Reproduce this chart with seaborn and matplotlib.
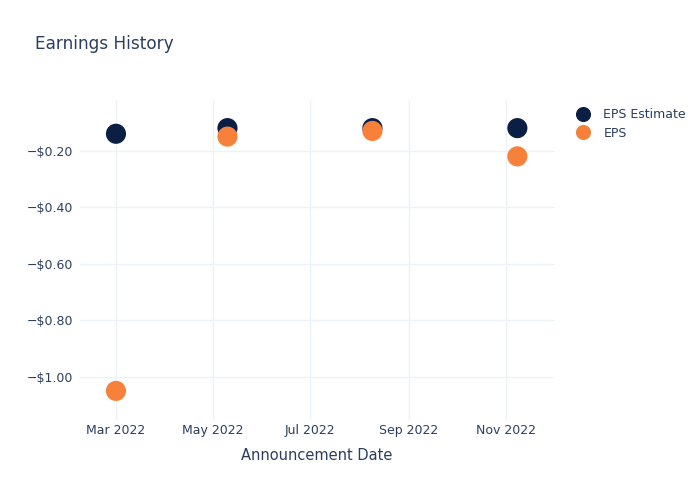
import matplotlib
matplotlib.use("Agg")
import matplotlib.pyplot as plt
import matplotlib.dates as mdates
import matplotlib.ticker as mticker
import seaborn as sns
import pandas as pd

dates = ["2022-03-01", "2022-05-10", "2022-08-09", "2022-11-08"]
eps_estimate = [-0.14, -0.12, -0.12, -0.12]
eps_actual = [-1.05, -0.15, -0.13, -0.22]
series_names = ["EPS Estimate", "EPS"]
colors = ["#0b1f45", "#f7813a"]

df = pd.DataFrame({
    "date": pd.to_datetime(dates * 2),
    "value": eps_estimate + eps_actual,
    "series": [series_names[0]] * len(dates) + [series_names[1]] * len(dates),
})

sns.set_style("white")
plt.rcParams['font.family'] = ['DejaVu Sans']
text_color = "#2a3f5f"
grid_color = "#edf1f8"

fig = plt.figure(figsize=(7, 5), dpi=100)
ax = fig.add_axes([80/700, 80/500, (554-80)/700, 320/500])

sns.scatterplot(data=df, x="date", y="value", hue="series", palette=colors,
                s=210, edgecolor="none", ax=ax, zorder=3, legend=True)

ax.set_xlim(pd.Timestamp("2022-02-06 10:00"), pd.Timestamp("2022-12-01"))
ax.set_ylim(-1.153, -0.0205)

ax.xaxis.set_major_locator(mdates.MonthLocator(bymonth=[3, 5, 7, 9, 11]))
ax.xaxis.set_major_formatter(mdates.DateFormatter("%b %Y"))
ax.set_yticks([-1.0, -0.8, -0.6, -0.4, -0.2])
ax.yaxis.set_major_formatter(mticker.FuncFormatter(lambda v, p: f"\u2212${abs(v):.2f}"))

ax.grid(True, color=grid_color, linewidth=1, zorder=0)
ax.set_axisbelow(True)
for s in ax.spines.values():
    s.set_visible(False)
ax.tick_params(axis="x", length=0, labelsize=9, colors=text_color, pad=3)
ax.tick_params(axis="y", length=0, labelsize=9, colors=text_color, pad=5)

ax.set_xlabel("Announcement Date", fontsize=10.5, color=text_color, labelpad=8)
ax.set_ylabel("")

fig.text(35/700, 1 - 44/500, "Earnings History", fontsize=12.2, color=text_color,
         va="center", ha="left")

leg = ax.legend(loc="upper left", bbox_to_anchor=(1.025, 0.99), frameon=False,
                fontsize=9, labelcolor=text_color, handletextpad=0.6,
                borderaxespad=0, labelspacing=0.45, markerscale=0.75)

fig.savefig("out.png", dpi=100)
